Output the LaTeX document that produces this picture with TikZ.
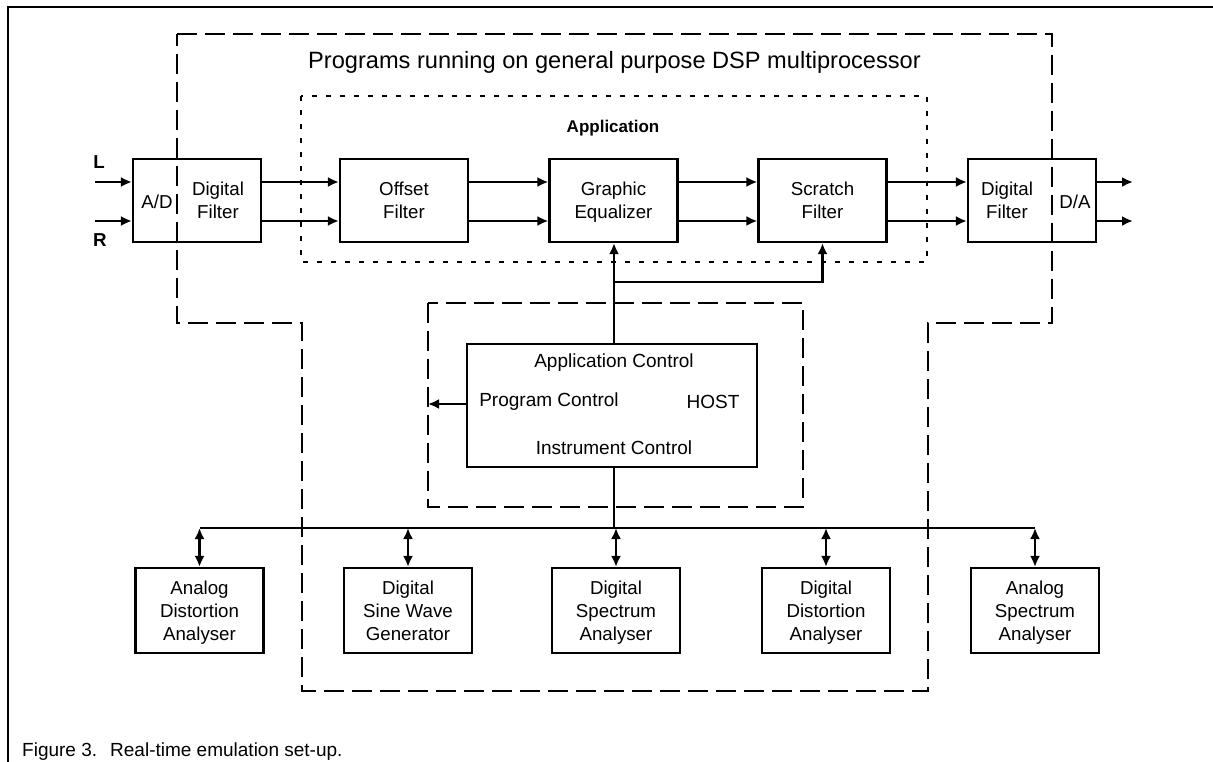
\documentclass[tikz,border=0pt]{standalone}
\usepackage{fontspec}
\setmainfont{Liberation Sans}
\usetikzlibrary{arrows.meta}
\tikzset{
  blk/.style={draw, line width=2.2pt, minimum width=128pt, minimum height=83pt, inner sep=0pt},
  txt/.style={font=\fontsize{18.7}{23}\selectfont, align=center, inner sep=0pt, yshift=-3.5pt,
    execute at begin node=\strut, execute at end node=\strut},
  lbl/.style={font=\fontsize{18.7}{23}\selectfont\bfseries, inner sep=0pt},
  htxt/.style={font=\fontsize{19}{23}\selectfont, inner sep=0pt},
  arr/.style={line width=2.8pt, -{Latex[length=11pt,width=10pt]}},
  biarr/.style={line width=2.8pt, {Latex[length=11pt,width=10pt]}-{Latex[length=11pt,width=10pt]}},
  plain/.style={line width=2.8pt},
  bigdash/.style={line width=2.2pt, dash pattern=on 20pt off 8pt},
  smalldash/.style={line width=2.2pt, dash pattern=on 5pt off 9pt},
}
\begin{document}
\begin{tikzpicture}[x=1pt,y=-1pt]
\useasboundingbox (0,0) rectangle (1213,762);
% frame
\draw[line width=2.8pt] (1213,7) -- (8,7) -- (8,762);
% regions
\draw[bigdash] (177,34) -- (1052,34) -- (1052,323) -- (928,323) -- (928,691) -- (302,691) -- (302,323) -- (177,323) -- cycle;
\draw[smalldash] (301,96) rectangle (927,262);
\draw[bigdash] (428,303) rectangle (803,507);
\node[font=\fontsize{23.6}{28}\selectfont, inner sep=0pt] (title) at (614.5,62) {Programs running on general purpose DSP multiprocessor};
\node[font=\fontsize{17}{20}\selectfont\bfseries, inner sep=0pt] (app) at (613,128) {Application};
% top chain
\node[blk] (ad) at (197,200.5) {};
\node[blk] (off) at (404,200.5) {};
\node[blk] (geq) at (613.5,200.5) {};
\node[blk] (scr) at (822.5,200.5) {};
\node[blk] (da) at (1032,200.5) {};
\node[txt] (adt) at (157,200) {A/D};
\node[txt] (adf) at (218,200.5) {Digital\\Filter};
\node[txt] (offt) at (404,200.5) {Offset\\Filter};
\node[txt] (geqt) at (613.5,200.5) {Graphic\\Equalizer};
\node[txt] (scrt) at (822.5,200.5) {Scratch\\Filter};
\node[txt] (daf) at (1007,200.5) {Digital\\Filter};
\node[txt] (dat) at (1075,200) {D/A};
\node[lbl] (lL) at (99,162) {L};
\node[lbl] (lR) at (100,240) {R};
\coordinate (yL) at (0,182);
\coordinate (yR) at (0,221);
\coordinate (inL) at (95,182);
\coordinate (inR) at (95,221);
\coordinate (outL) at (1133,182);
\coordinate (outR) at (1133,221);
\draw[arr] (inL) -- (ad.west |- yL);
\draw[arr] (inR) -- (ad.west |- yR);
\draw[arr] (ad.east |- yL) -- (off.west |- yL);
\draw[arr] (ad.east |- yR) -- (off.west |- yR);
\draw[arr] (off.east |- yL) -- (geq.west |- yL);
\draw[arr] (off.east |- yR) -- (geq.west |- yR);
\draw[arr] (geq.east |- yL) -- (scr.west |- yL);
\draw[arr] (geq.east |- yR) -- (scr.west |- yR);
\draw[arr] (scr.east |- yL) -- (da.west |- yL);
\draw[arr] (scr.east |- yR) -- (da.west |- yR);
\draw[arr] (da.east |- yL) -- (outL);
\draw[arr] (da.east |- yR) -- (outR);
% host
\node[draw, line width=2.2pt, minimum width=290pt, minimum height=123pt, inner sep=0pt] (host) at (612,405.5) {};
\node[htxt] (ac) at (614,363) {Application Control};
\node[htxt] (pc) at (549,402) {Program Control};
\node[htxt] (hst) at (713,402) {HOST};
\node[htxt] (ic) at (614,448) {Instrument Control};
\coordinate (xc) at (614,0);
\coordinate (br) at (614,282);
\coordinate (pcend) at (428,404);
\draw[arr] (xc |- host.north) -- (xc |- geq.south);
\draw[arr] (br) -| (scr.south);
\draw[arr] (host.west |- pcend) -- (pcend);
% instruments
\node[blk, minimum height=85pt] (i1) at (199.5,610.5) {};
\node[blk, minimum height=85pt] (i2) at (408,610.5) {};
\node[blk, minimum height=85pt] (i3) at (616,610.5) {};
\node[blk, minimum height=85pt] (i4) at (826,610.5) {};
\node[blk, minimum height=85pt] (i5) at (1035,610.5) {};
\node[txt] (i1t) at (199.5,610.5) {Analog\\Distortion\\Analyser};
\node[txt] (i2t) at (408,610.5) {Digital\\Sine Wave\\Generator};
\node[txt] (i3t) at (616,610.5) {Digital\\Spectrum\\Analyser};
\node[txt] (i4t) at (826,610.5) {Digital\\Distortion\\Analyser};
\node[txt] (i5t) at (1035,610.5) {Analog\\Spectrum\\Analyser};
\coordinate (busy) at (0,528);
\draw[plain] (xc |- host.south) -- (xc |- busy);
\draw[plain] (i1.north |- busy) -- (i5.north |- busy);
\foreach \i in {i1,i2,i3,i4,i5} {\draw[biarr] (\i.north |- busy) -- (\i.north);}
% caption
\node[font=\fontsize{19}{22}\selectfont, anchor=west, inner sep=0pt] (cap1) at (22,752) {Figure 3.};
\node[font=\fontsize{19}{22}\selectfont, anchor=west, inner sep=0pt] (cap2) at (110,752) {Real-time emulation set-up.};
\end{tikzpicture}
\end{document}
